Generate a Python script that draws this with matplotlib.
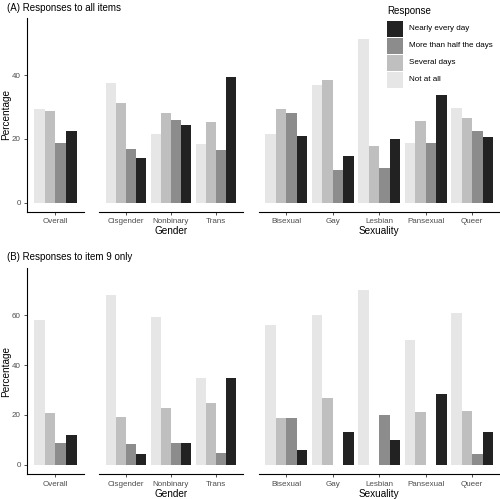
# Depression-item responses by group, two panels (all items / item 9)
import matplotlib
matplotlib.use("Agg")
import matplotlib.pyplot as plt
from matplotlib.patches import Rectangle
import numpy as np

plt.rcParams["font.family"] = ["Liberation Sans", "DejaVu Sans"]

responses = ["Not at all", "Several days", "More than half the days", "Nearly every day"]
colors = ["#E6E6E6", "#BFBFBF", "#8C8C8C", "#222222"]

groups = ["Overall", "Gender", "Sexuality"]
overall_cats = ["Overall"]
gender_cats = ["Cisgender", "Nonbinary", "Trans"]
sexuality_cats = ["Bisexual", "Gay", "Lesbian", "Pansexual", "Queer"]

# percentages per category, in the order of `responses`
all_overall = [[29.3, 28.8, 18.8, 22.6]]
all_gender = [[37.5, 31.3, 16.8, 14.1],
              [21.7, 28.0, 25.9, 24.3],
              [18.3, 25.4, 16.5, 39.5]]
all_sexuality = [[21.6, 29.3, 28.0, 20.9],
                 [36.8, 38.3, 10.3, 14.6],
                 [51.2, 17.7, 11.0, 20.0],
                 [18.6, 25.5, 18.6, 33.9],
                 [29.8, 26.6, 22.6, 20.7]]

item9_overall = [[58.0, 20.8, 8.8, 12.0]]
item9_gender = [[68.0, 19.1, 8.4, 4.3],
                [59.1, 22.8, 8.9, 8.9],
                [34.9, 24.8, 4.9, 34.9]]
item9_sexuality = [[56.1, 18.7, 18.7, 6.1],
                   [59.9, 26.7, 0.0, 13.2],
                   [70.0, 0.0, 20.0, 9.9],
                   [49.9, 21.3, 0.0, 28.5],
                   [60.8, 21.6, 4.3, 13.1]]

W, H = 500, 499
fig = plt.figure(figsize=(W / 100, H / 100), dpi=100)


def px_axes(x0, x1, ytop, ybot):
    return fig.add_axes([x0 / W, 1 - ybot / H, (x1 - x0) / W, (ybot - ytop) / H])


facet_x = [(27, 84), (99, 243), (258.5, 500)]
tick_col = "#4D4D4D"


def draw_panel(ytop, ybot, ylim, yticks, title, data_list, ty):
    cats_list = [overall_cats, gender_cats, sexuality_cats]
    for i, (cats, data) in enumerate(zip(cats_list, data_list)):
        ax = px_axes(facet_x[i][0], facet_x[i][1], ytop, ybot)
        x = np.arange(1, len(cats) + 1)
        data = np.array(data)
        w = 0.9 / 4
        for j in range(4):
            ax.bar(x + (j - 1.5) * w, data[:, j], width=w, color=colors[j], linewidth=0)
        ax.set_xlim(0.4, len(cats) + 0.6)
        ax.set_ylim(*ylim)
        ax.set_xticks(x)
        ax.set_xticklabels(cats, fontsize=5.8, color=tick_col)
        ax.tick_params(axis="x", length=2.5, width=0.6, color="#333333", pad=2)
        for s in ["top", "right"]:
            ax.spines[s].set_visible(False)
        ax.spines["bottom"].set_linewidth(0.8)
        if i == 0:
            ax.set_yticks(yticks)
            ax.set_yticklabels([str(t) for t in yticks], fontsize=5.8, color=tick_col)
            ax.tick_params(axis="y", length=2.5, width=0.6, color="#333333", pad=2)
            ax.spines["left"].set_linewidth(0.8)
        else:
            ax.spines["left"].set_visible(False)
            ax.set_yticks([])
            ax.set_xlabel(groups[i], fontsize=7.2, labelpad=0.8)
    fig.text(6.5 / W, 1 - (ytop + ybot) / 2 / H, "Percentage", fontsize=7.2,
             rotation=90, ha="center", va="center")
    fig.text(7 / W, 1 - ty / H, title, fontsize=7, ha="left", va="center")


draw_panel(18.3, 211.7, (-2.75, 57.75), [0, 20, 40], "(A) Responses to all items",
           [all_overall, all_gender, all_sexuality], 8)
draw_panel(268.3, 474.3, (-3.75, 78.75), [0, 20, 40, 60], "(B) Responses to item 9 only",
           [item9_overall, item9_gender, item9_sexuality], 257.5)

# legend (top to bottom: Nearly every day ... Not at all)
fig.text(387 / W, 1 - 11.5 / H, "Response", fontsize=7, ha="left", va="center")
for k, (lab, col) in enumerate(zip(responses[::-1], colors[::-1])):
    y0 = 20.7 + k * 17
    fig.patches.append(Rectangle((387.3 / W, 1 - (y0 + 16) / H), 16 / W, 16 / H,
                                 facecolor=col, edgecolor="none",
                                 transform=fig.transFigure, figure=fig))
    fig.text(409 / W, 1 - (y0 + 8) / H, lab, fontsize=5.8, ha="left", va="center")

fig.savefig("out.png", dpi=100)
